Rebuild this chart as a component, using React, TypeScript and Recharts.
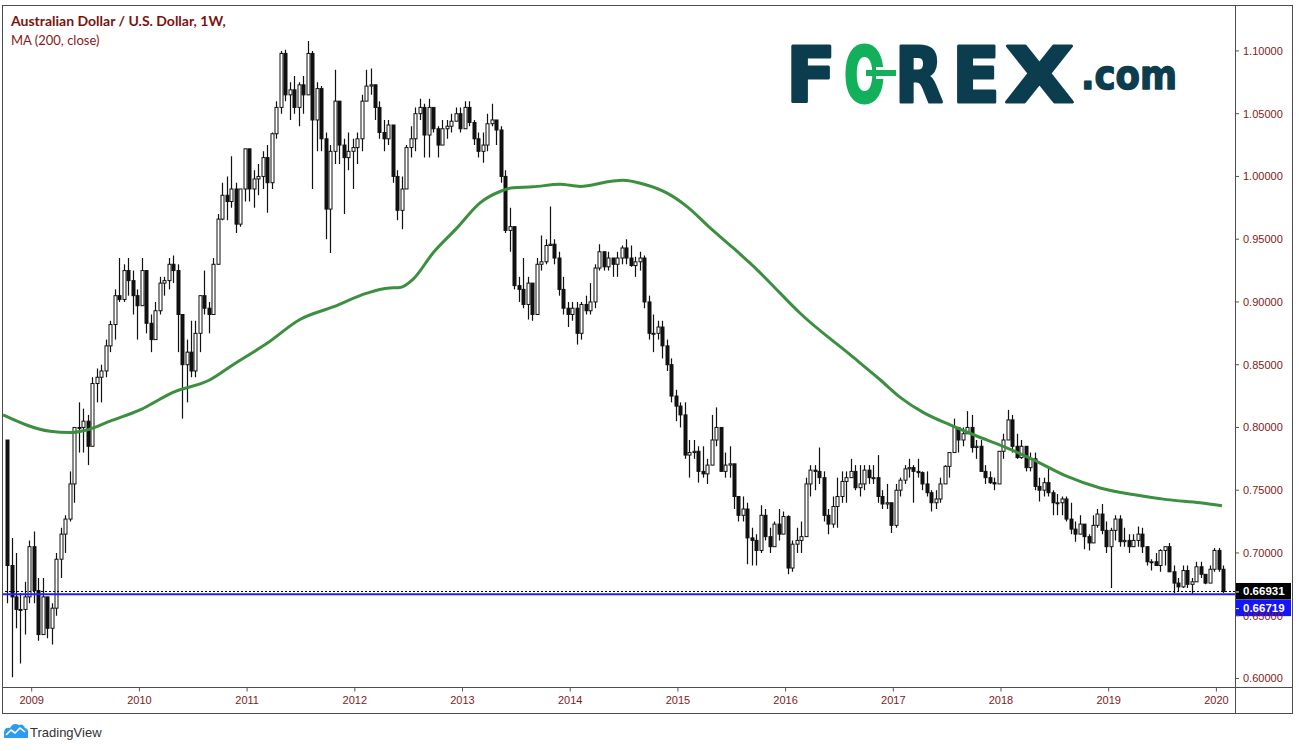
import React from "react";
import { ComposedChart, Bar, Line, XAxis, YAxis, ReferenceLine } from "recharts";

// Semi-monthly candles [high, low, close]; the open is the previous close.
const FIRST_OPEN = 0.79;
const START_YEAR = 2008;
const START_SLOT = 18; // 2008 data starts in the first half of October

const p2008 = [[0.790,0.660,0.690],[0.712,0.601,0.665],[0.700,0.640,0.655],[0.668,0.612,0.655],[0.677,0.635,0.665],[0.710,0.660,0.705]];
const p2009 = [[0.717,0.660,0.670],[0.680,0.630,0.635],[0.680,0.640,0.665],[0.665,0.632,0.640],[0.660,0.627,0.656],[0.700,0.650,0.695],[0.720,0.680,0.715],[0.730,0.700,0.727],[0.765,0.725,0.755],[0.800,0.740,0.800],[0.820,0.780,0.800],[0.815,0.780,0.805],[0.810,0.770,0.785],[0.840,0.790,0.835],[0.847,0.820,0.840],[0.850,0.820,0.845],[0.870,0.840,0.865],[0.885,0.860,0.882],[0.910,0.870,0.905],[0.935,0.900,0.902],[0.930,0.900,0.925],[0.935,0.905,0.917],[0.925,0.890,0.905],[0.910,0.870,0.897]];
const p2010 = [[0.935,0.905,0.925],[0.925,0.875,0.883],[0.890,0.860,0.870],[0.900,0.870,0.893],[0.920,0.890,0.915],[0.920,0.905,0.917],[0.935,0.910,0.930],[0.937,0.915,0.925],[0.930,0.860,0.890],[0.890,0.807,0.850],[0.870,0.820,0.860],[0.885,0.840,0.845],[0.885,0.840,0.875],[0.905,0.860,0.905],[0.925,0.890,0.895],[0.900,0.875,0.890],[0.935,0.890,0.930],[0.970,0.930,0.966],[0.995,0.965,0.985],[1.000,0.965,0.980],[1.016,0.975,0.990],[0.995,0.955,0.962],[0.990,0.960,0.990],[1.020,0.980,1.022]];
const p2011 = [[1.020,0.980,0.990],[1.005,0.975,0.998],[1.010,0.985,1.000],[1.020,0.990,1.015],[1.025,0.971,0.995],[1.035,0.990,1.034],[1.060,1.030,1.055],[1.100,1.050,1.098],[1.101,1.060,1.065],[1.075,1.045,1.069],[1.080,1.050,1.055],[1.075,1.040,1.073],[1.080,1.050,1.065],[1.108,1.070,1.098],[1.100,0.990,1.045],[1.075,1.020,1.070],[1.072,1.020,1.030],[1.035,0.950,0.974],[1.025,0.939,1.020],[1.085,1.010,1.060],[1.060,1.010,1.025],[1.030,0.970,1.015],[1.035,1.005,1.020],[1.030,0.990,1.023]];
const p2012 = [[1.035,1.010,1.030],[1.065,1.020,1.060],[1.085,1.060,1.072],[1.086,1.065,1.073],[1.070,1.045,1.055],[1.060,1.030,1.035],[1.045,1.020,1.030],[1.045,1.025,1.041],[1.040,0.995,1.000],[1.005,0.965,0.973],[1.000,0.958,0.990],[1.025,0.990,1.023],[1.040,1.015,1.030],[1.055,1.020,1.050],[1.062,1.045,1.055],[1.058,1.015,1.033],[1.062,1.015,1.055],[1.055,1.035,1.038],[1.040,1.015,1.025],[1.045,1.025,1.038],[1.045,1.030,1.040],[1.050,1.035,1.044],[1.055,1.045,1.050],[1.055,1.035,1.038]];
const p2013 = [[1.060,1.040,1.055],[1.060,1.040,1.043],[1.045,1.025,1.030],[1.035,1.015,1.020],[1.035,1.011,1.025],[1.050,1.020,1.042],[1.058,1.040,1.045],[1.045,1.025,1.037],[1.040,0.995,1.000],[1.005,0.955,0.957],[0.975,0.940,0.960],[0.960,0.910,0.913],[0.920,0.900,0.910],[0.935,0.895,0.898],[0.920,0.886,0.915],[0.915,0.885,0.890],[0.935,0.890,0.930],[0.953,0.925,0.932],[0.950,0.930,0.945],[0.976,0.945,0.946],[0.950,0.930,0.935],[0.940,0.905,0.910],[0.920,0.890,0.895],[0.900,0.880,0.890]];
const p2014 = [[0.900,0.885,0.895],[0.900,0.866,0.875],[0.900,0.870,0.898],[0.905,0.890,0.893],[0.915,0.890,0.900],[0.930,0.895,0.927],[0.946,0.925,0.940],[0.940,0.925,0.928],[0.940,0.925,0.935],[0.935,0.920,0.930],[0.940,0.920,0.935],[0.945,0.930,0.943],[0.950,0.930,0.935],[0.945,0.928,0.929],[0.936,0.920,0.932],[0.940,0.925,0.935],[0.937,0.895,0.900],[0.905,0.870,0.875],[0.890,0.860,0.875],[0.885,0.870,0.880],[0.885,0.855,0.865],[0.870,0.845,0.850],[0.855,0.820,0.825],[0.830,0.805,0.817]];
const p2015 = [[0.820,0.800,0.810],[0.820,0.775,0.778],[0.790,0.760,0.780],[0.790,0.775,0.781],[0.785,0.756,0.765],[0.785,0.760,0.763],[0.775,0.755,0.770],[0.810,0.770,0.790],[0.816,0.785,0.800],[0.800,0.765,0.765],[0.780,0.760,0.770],[0.785,0.760,0.771],[0.770,0.735,0.745],[0.745,0.725,0.730],[0.745,0.725,0.735],[0.740,0.691,0.712],[0.720,0.690,0.710],[0.715,0.690,0.702],[0.738,0.700,0.730],[0.735,0.710,0.713],[0.720,0.700,0.705],[0.725,0.705,0.723],[0.735,0.710,0.715],[0.733,0.715,0.729]];
const p2016 = [[0.730,0.683,0.688],[0.710,0.685,0.707],[0.720,0.700,0.710],[0.725,0.700,0.713],[0.760,0.720,0.755],[0.770,0.745,0.766],[0.770,0.750,0.765],[0.784,0.755,0.760],[0.765,0.725,0.730],[0.735,0.715,0.723],[0.745,0.720,0.737],[0.760,0.720,0.745],[0.765,0.740,0.757],[0.765,0.740,0.760],[0.775,0.760,0.765],[0.770,0.750,0.752],[0.770,0.745,0.755],[0.770,0.750,0.766],[0.770,0.755,0.760],[0.770,0.755,0.760],[0.778,0.740,0.745],[0.750,0.735,0.739],[0.755,0.735,0.740],[0.740,0.716,0.722]];
const p2017 = [[0.755,0.720,0.750],[0.760,0.745,0.758],[0.770,0.755,0.767],[0.775,0.760,0.768],[0.770,0.740,0.765],[0.775,0.760,0.764],[0.765,0.750,0.755],[0.765,0.745,0.748],[0.750,0.733,0.740],[0.750,0.735,0.743],[0.760,0.740,0.755],[0.770,0.755,0.769],[0.780,0.760,0.780],[0.807,0.785,0.800],[0.800,0.780,0.790],[0.800,0.785,0.795],[0.813,0.795,0.800],[0.810,0.780,0.784],[0.790,0.775,0.785],[0.790,0.765,0.765],[0.770,0.755,0.760],[0.765,0.755,0.756],[0.760,0.750,0.755],[0.781,0.755,0.781]];
const p2018 = [[0.795,0.775,0.790],[0.814,0.790,0.806],[0.810,0.780,0.785],[0.795,0.775,0.776],[0.790,0.775,0.785],[0.785,0.765,0.768],[0.780,0.765,0.775],[0.780,0.750,0.753],[0.760,0.741,0.750],[0.760,0.745,0.756],[0.768,0.745,0.748],[0.750,0.730,0.740],[0.747,0.730,0.740],[0.745,0.730,0.743],[0.745,0.725,0.727],[0.740,0.715,0.719],[0.725,0.709,0.715],[0.730,0.715,0.723],[0.720,0.703,0.713],[0.715,0.702,0.708],[0.730,0.710,0.722],[0.735,0.720,0.731],[0.739,0.715,0.718],[0.725,0.700,0.705]];
const p2019 = [[0.720,0.672,0.718],[0.730,0.710,0.727],[0.730,0.705,0.709],[0.720,0.705,0.710],[0.715,0.700,0.705],[0.715,0.705,0.710],[0.721,0.705,0.715],[0.720,0.700,0.705],[0.705,0.690,0.693],[0.695,0.686,0.693],[0.700,0.690,0.690],[0.703,0.685,0.702],[0.705,0.690,0.705],[0.708,0.685,0.685],[0.690,0.668,0.676],[0.680,0.669,0.673],[0.690,0.672,0.686],[0.690,0.672,0.675],[0.680,0.667,0.677],[0.693,0.680,0.689],[0.693,0.680,0.683],[0.683,0.675,0.676],[0.690,0.676,0.687],[0.704,0.685,0.702]];
const p2020 = [[0.704,0.685,0.687],[0.690,0.668,0.66931]];

const yearRows = [p2008, p2009, p2010, p2011, p2012, p2013, p2014, p2015, p2016, p2017, p2018, p2019, p2020];

// 200-week moving average (fractional year, value)
const maYears = [2008.734, 2009.170, 2009.356, 2009.513, 2009.727, 2010.006, 2010.312, 2010.656, 2010.870, 2011.185, 2011.491, 2011.798, 2012.113, 2012.299, 2012.420, 2012.540, 2012.726, 2012.949, 2013.163, 2013.349, 2013.470, 2013.655, 2013.906, 2014.092, 2014.370, 2014.491, 2014.677, 2014.900, 2015.085, 2015.299, 2015.513, 2015.736, 2015.949, 2016.135, 2016.599, 2016.878, 2017.064, 2017.277, 2017.528, 2017.779, 2017.992, 2018.298, 2018.614, 2018.920, 2019.226, 2019.542, 2019.848, 2020.052];
const maValues = [0.810, 0.797, 0.796, 0.798, 0.805, 0.814, 0.828, 0.838, 0.850, 0.867, 0.886, 0.896, 0.907, 0.911, 0.9115, 0.918, 0.939, 0.959, 0.979, 0.988, 0.991, 0.9917, 0.9938, 0.992, 0.996, 0.997, 0.994, 0.9867, 0.976, 0.959, 0.943, 0.9256, 0.907, 0.891, 0.858, 0.838, 0.824, 0.812, 0.802, 0.793, 0.786, 0.7744, 0.761, 0.7518, 0.7465, 0.7425, 0.740, 0.7377];

const yearTicks = [2009, 2010, 2011, 2012, 2013, 2014, 2015, 2016, 2017, 2018, 2019, 2020];
const priceTicks = [0.6, 0.65, 0.7, 0.75, 0.8, 0.85, 0.9, 0.95, 1.0, 1.05, 1.1];
const LAST_CLOSE = 0.66931;
const LEVEL_LINE = 0.66719;

const candles: any[] = [];
let prevClose = FIRST_OPEN;
yearRows.forEach((rows, yi) => {
  const year = START_YEAR + yi;
  const offset = yi === 0 ? START_SLOT : 0;
  rows.forEach(([h, l, c], k) => {
    const o = prevClose;
    const hi = Math.max(h, o, c);
    const lo = Math.min(l, o, c);
    candles.push({ t: year + (offset + k + 0.5) / 24, o, h: hi, l: lo, c, range: [lo, hi] });
    prevClose = c;
  });
});

const maData = maYears.map((t, i) => ({ t, ma: maValues[i] }));

const AXIS_TEXT = "#7e1b1b";
const FONT = "Liberation Sans, Arial, sans-serif";
const LOGO_DARK = "#0b3d4f";
const LOGO_GREEN = "#12b05b";

const Candle = (props: any) => {
  const { x, y, width, height, payload } = props;
  if (!payload || x == null || y == null) return null;
  const top = Math.min(y, y + height);
  const hh = Math.abs(height);
  const { o, c, h, l } = payload;
  const span = h - l;
  const py = (v: number) => (span > 0 ? top + ((h - v) / span) * hh : top);
  const cx = Math.round(x + width / 2) + 0.5;
  const up = c >= o;
  const bTop = py(Math.max(o, c));
  const bBot = py(Math.min(o, c));
  return (
    <g>
      <line x1={cx} x2={cx} y1={top} y2={top + hh} stroke="#111" strokeWidth={1.2} />
      <rect x={cx - 1.5} y={bTop} width={3} height={Math.max(bBot - bTop, 1)} fill={up ? "#fff" : "#111"} stroke="#111" strokeWidth={1} />
    </g>
  );
};

const PriceTag = (props: any) => {
  const { viewBox, text, bg, shift } = props;
  if (!viewBox) return null;
  const right = viewBox.x + viewBox.width;
  const top = viewBox.y - 8.5 + shift;
  return (
    <g>
      <rect x={right} y={top} width={56} height={16.5} fill={bg} />
      <line x1={right} x2={right + 4} y1={viewBox.y + shift + 0.5} y2={viewBox.y + shift + 0.5} stroke="#fff" strokeWidth={1} />
      <text x={right + 8} y={top + 12.5} fill="#fff" fontSize={11.5} fontWeight="bold" fontFamily={FONT}>{text}</text>
    </g>
  );
};

export default function App() {
  return (
    <div style={{ position: "absolute", left: 0, top: 0, width: 1299, height: 751, background: "#fff", overflow: "hidden" }}>
      <ComposedChart width={1299} height={751} data={candles} margin={{ top: 5, right: 7, bottom: 37.5, left: 3 }}>
        <XAxis
          dataKey="t"
          type="number"
          domain={[2008.7335, 2020.1727]}
          allowDataOverflow
          ticks={yearTicks}
          interval={0}
          tickFormatter={(v: number) => String(Math.round(v))}
          axisLine={false}
          tickLine={{ stroke: "#555" }}
          tickSize={4}
          tickMargin={5}
          height={26}
          tick={{ fill: AXIS_TEXT, fontSize: 11, fontFamily: FONT }}
        />
        <YAxis
          orientation="right"
          type="number"
          domain={[0.5928, 1.1366]}
          allowDataOverflow
          ticks={priceTicks}
          interval={0}
          tickFormatter={(v: number) => v.toFixed(5)}
          axisLine={false}
          tickLine={{ stroke: "#555" }}
          tickSize={4}
          tickMargin={4}
          width={57}
          tick={{ fill: AXIS_TEXT, fontSize: 11, fontFamily: FONT }}
        />
        <Bar dataKey="range" shape={<Candle />} barSize={3} isAnimationActive={false} />
        <Line data={maData} dataKey="ma" type="monotone" stroke="#3b8f3f" strokeWidth={3} dot={false} isAnimationActive={false} />
        <ReferenceLine y={LAST_CLOSE} stroke="#000" strokeDasharray="2 2" strokeWidth={1} label={<PriceTag text="0.66931" bg="#000" shift={0} />} />
        <ReferenceLine y={LEVEL_LINE} stroke="#1f1fff" strokeWidth={2} label={<PriceTag text="0.66719" bg="#1414ff" shift={14} />} />
      </ComposedChart>
      <svg width={1299} height={751} style={{ position: "absolute", left: 0, top: 0, pointerEvents: "none" }}>
        <rect x={2.5} y={5.5} width={1290} height={708} fill="none" stroke="#4d4d4d" strokeWidth={1} />
        <line x1={1235.5} x2={1235.5} y1={5} y2={714} stroke="#4d4d4d" strokeWidth={1} />
        <line x1={2} x2={1293} y1={687.5} y2={687.5} stroke="#4d4d4d" strokeWidth={1} />
        <text x={11} y={26} fill="#7a1212" fontSize={14} fontWeight="bold" fontFamily="Lato, sans-serif">Australian Dollar / U.S. Dollar, 1W,</text>
        <text x={11} y={44.5} fill="#861a1a" fontSize={13} fontFamily="Lato, sans-serif">MA (200, close)</text>
        <g fontFamily="DejaVu Sans, sans-serif" fontWeight="bold" fill={LOGO_DARK} stroke={LOGO_DARK} strokeWidth={3} strokeLinejoin="round">
          <text x={786} y={102} fontSize={76} textLength={50} lengthAdjust="spacingAndGlyphs">F</text>
          <text x={844} y={102} fontSize={76} textLength={41} lengthAdjust="spacingAndGlyphs" fill={LOGO_GREEN} stroke={LOGO_GREEN}>O</text>
          <text x={895} y={102} fontSize={76} textLength={48} lengthAdjust="spacingAndGlyphs">R</text>
          <text x={952} y={102} fontSize={76} textLength={48} lengthAdjust="spacingAndGlyphs">E</text>
          <text x={1005} y={102} fontSize={76} textLength={69} lengthAdjust="spacingAndGlyphs">X</text>
          <text x={1081} y={89} fontSize={40} textLength={96} lengthAdjust="spacingAndGlyphs" strokeWidth={1.5}>.com</text>
        </g>
        <rect x={876} y={67} width={20} height={3} fill="#fff" />
        <rect x={866} y={70} width={30} height={6} fill={LOGO_GREEN} />
        <rect x={876} y={76} width={20} height={3} fill="#fff" />
        <g>
          <path d="M4 738 L4 733 Q4 727 10 728 Q13 722 19 725 Q23 723 25 728 Q29 729 28 734 L28 738 Z" fill="#2d9cf0" />
          <polyline points="6,735 11,730 15,733 20,728 25,732" fill="none" stroke="#fff" strokeWidth={1.6} />
        </g>
        <text x={30} y={737} fill="#333" fontSize={13} fontFamily={FONT}>TradingView</text>
      </svg>
    </div>
  );
}
